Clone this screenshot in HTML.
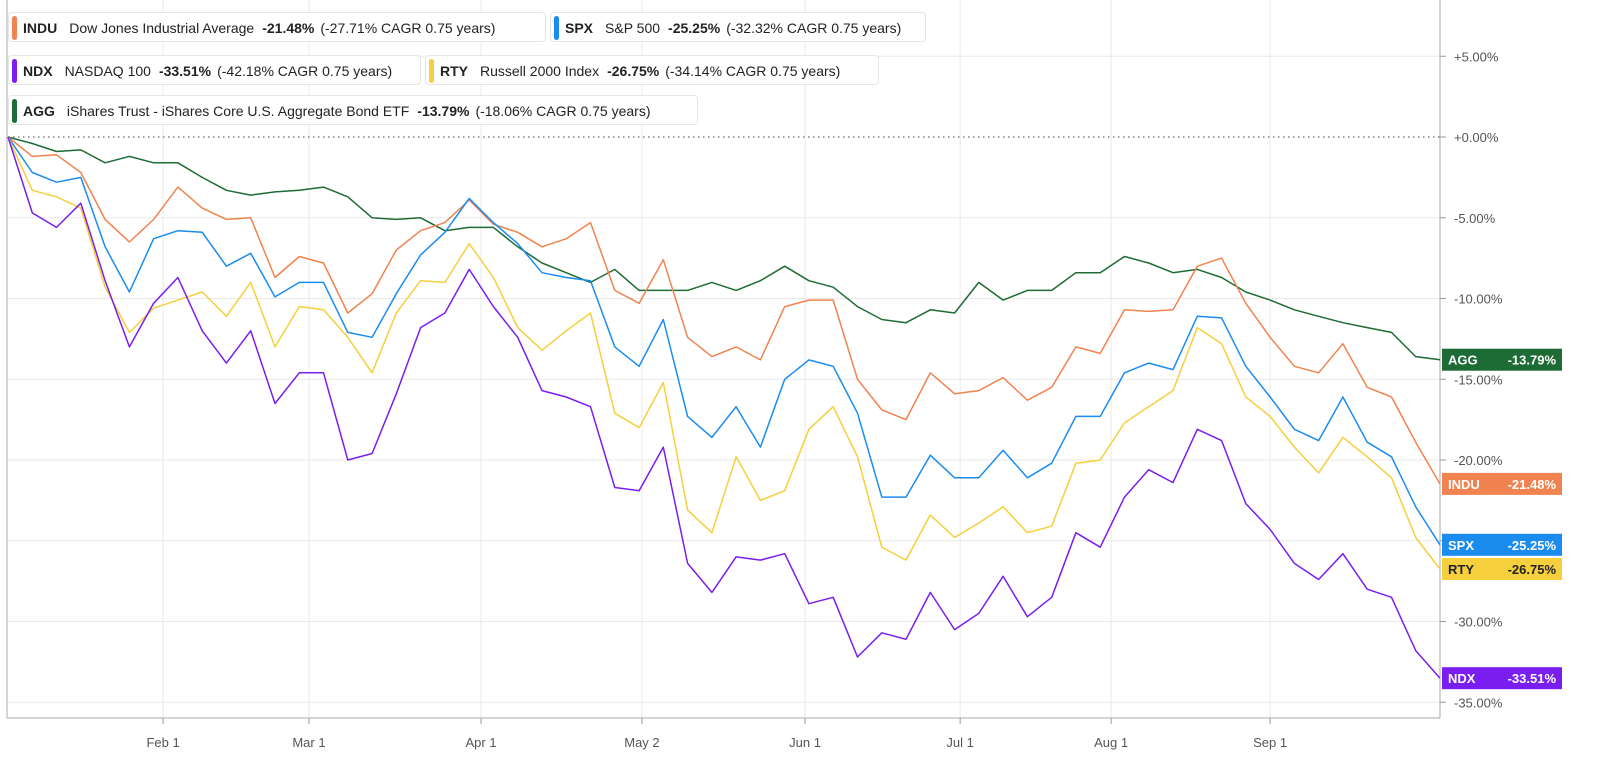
<!DOCTYPE html>
<html><head><meta charset="utf-8">
<style>
html,body{margin:0;padding:0;background:#fff;width:1600px;height:764px;overflow:hidden;font-family:"Liberation Sans",sans-serif;}
#wrap{position:relative;width:1600px;height:764px;overflow:hidden;}
svg{position:absolute;left:0;top:0;overflow:hidden;}
.leg{position:absolute;height:30px;border:1px solid #e6e6e6;border-radius:4px;background:#fff;font-size:14px;color:#222;line-height:30px;white-space:nowrap;padding-left:14px;padding-right:8px;box-sizing:border-box;overflow:hidden;}
.leg .bar{position:absolute;left:3px;top:3px;width:5px;height:24px;border-radius:3px;}
.leg b{font-weight:bold;margin-right:12px;}
.leg .p{font-weight:bold;margin-left:8px;margin-right:6px;}
</style></head><body>
<div id="wrap">
<svg id="chart" width="1600" height="764" viewBox="0 0 1600 764"></svg>
<div class="leg" style="left:8px;top:12px;width:538px"><span class="bar" style="background:#f0834f"></span><b>INDU</b>Dow Jones Industrial Average<span class="p">-21.48%</span>(-27.71% CAGR 0.75 years)</div>
<div class="leg" style="left:550px;top:12px;width:376px"><span class="bar" style="background:#1a8cf0"></span><b>SPX</b>S&amp;P 500<span class="p">-25.25%</span>(-32.32% CAGR 0.75 years)</div>
<div class="leg" style="left:8px;top:55px;width:413px"><span class="bar" style="background:#7a1ef0"></span><b>NDX</b>NASDAQ 100<span class="p">-33.51%</span>(-42.18% CAGR 0.75 years)</div>
<div class="leg" style="left:425px;top:55px;width:454px"><span class="bar" style="background:#f5cf3c"></span><b>RTY</b>Russell 2000 Index<span class="p">-26.75%</span>(-34.14% CAGR 0.75 years)</div>
<div class="leg" style="left:8px;top:95px;width:690px"><span class="bar" style="background:#1d6b35"></span><b>AGG</b>iShares Trust - iShares Core U.S. Aggregate Bond ETF<span class="p">-13.79%</span>(-18.06% CAGR 0.75 years)</div>
</div>
<script>
const yTicks=[5,0,-5,-10,-15,-20,-25,-30,-35];
const yTickLabels=["+5.00%","+0.00%","-5.00%","-10.00%","-15.00%","-20.00%","-25.00%","-30.00%","-35.00%"];
const monthLabels=["Feb 1","Mar 1","Apr 1","May 2","Jun 1","Jul 1","Aug 1","Sep 1"];
const monthIdx=[6.39,12.40,19.49,26.12,32.84,39.23,45.45,52.0];
const indu=[0,-1.2,-1.1,-2.2,-5.1,-6.5,-5.1,-3.1,-4.4,-5.1,-5.0,-8.7,-7.4,-7.8,-10.9,-9.7,-7.0,-5.8,-5.3,-3.9,-5.4,-5.9,-6.8,-6.3,-5.3,-9.5,-10.3,-7.6,-12.4,-13.6,-13.0,-13.8,-10.5,-10.1,-10.1,-15.0,-16.9,-17.5,-14.6,-15.9,-15.7,-14.9,-16.3,-15.5,-13.0,-13.4,-10.7,-10.8,-10.7,-8.0,-7.5,-10.3,-12.4,-14.2,-14.6,-12.8,-15.5,-16.1,-18.9,-21.48];
const spx=[0,-2.2,-2.8,-2.5,-6.8,-9.6,-6.3,-5.8,-5.9,-8.0,-7.2,-9.9,-9.0,-9.0,-12.1,-12.4,-9.7,-7.3,-5.9,-3.8,-5.3,-6.6,-8.4,-8.7,-8.9,-13.0,-14.2,-11.3,-17.3,-18.6,-16.7,-19.2,-15.0,-13.8,-14.2,-17.1,-22.3,-22.3,-19.7,-21.1,-21.1,-19.4,-21.1,-20.2,-17.3,-17.3,-14.6,-14.0,-14.4,-11.1,-11.2,-14.2,-16.1,-18.1,-18.8,-16.1,-18.9,-19.8,-22.9,-25.25];
const rty=[0,-3.3,-3.7,-4.4,-9.3,-12.1,-10.6,-10.1,-9.6,-11.1,-9.0,-13.0,-10.5,-10.7,-12.4,-14.6,-10.9,-8.9,-9.0,-6.6,-8.7,-11.8,-13.2,-12.0,-10.9,-17.1,-18.0,-15.2,-23.1,-24.5,-19.8,-22.5,-21.9,-18.1,-16.7,-19.8,-25.4,-26.2,-23.4,-24.8,-23.9,-22.9,-24.5,-24.1,-20.2,-20.0,-17.7,-16.7,-15.7,-11.8,-12.8,-16.1,-17.3,-19.2,-20.8,-18.6,-19.8,-21.1,-24.8,-26.75];
const ndx=[0,-4.7,-5.6,-4.1,-8.9,-13.0,-10.3,-8.7,-12.0,-14.0,-12.0,-16.5,-14.6,-14.6,-20.0,-19.6,-15.9,-11.8,-10.9,-8.2,-10.5,-12.4,-15.7,-16.1,-16.7,-21.7,-21.9,-19.2,-26.4,-28.2,-26.0,-26.2,-25.8,-28.9,-28.5,-32.2,-30.7,-31.1,-28.2,-30.5,-29.5,-27.2,-29.7,-28.5,-24.5,-25.4,-22.3,-20.6,-21.4,-18.1,-18.8,-22.7,-24.3,-26.4,-27.4,-25.8,-28.0,-28.5,-31.8,-33.51];
const agg=[0,-0.4,-0.9,-0.8,-1.6,-1.2,-1.6,-1.6,-2.5,-3.3,-3.6,-3.4,-3.3,-3.1,-3.7,-5.0,-5.1,-5.0,-5.8,-5.6,-5.6,-6.8,-7.8,-8.4,-9.0,-8.2,-9.5,-9.5,-9.5,-9.0,-9.5,-8.9,-8.0,-8.9,-9.3,-10.5,-11.3,-11.5,-10.7,-10.9,-9.0,-10.1,-9.5,-9.5,-8.4,-8.4,-7.4,-7.8,-8.4,-8.2,-8.7,-9.6,-10.1,-10.7,-11.1,-11.5,-11.8,-12.1,-13.6,-13.79];
const seriesNames=["AGG","INDU","SPX","RTY","NDX"];

const NS="http://www.w3.org/2000/svg";
const svg=document.getElementById('chart');
const X0=8,X1=1440,Y0=137,PXPCT=16.15;
const N=indu.length;
function xScale(i){return X0+(X1-X0)*i/(N-1);}
function yScale(v){return Y0-v*PXPCT;}
function mk(tag,attrs){const e=document.createElementNS(NS,tag);for(const k in attrs)e.setAttribute(k,attrs[k]);svg.appendChild(e);return e;}

yTicks.forEach((t,k)=>{
  const y=yScale(t);
  if(t!==0){const g=mk('line',{x1:X0,x2:X1,y1:y,y2:y,stroke:'#e9e9e9','stroke-width':1});
  
  }
  const tk=mk('line',{x1:X1,x2:X1+6,y1:y,y2:y,stroke:'#999','stroke-width':1});
  
  
  const tx=mk('text',{x:X1+14,y:y+5,'font-size':13,fill:'#555','font-family':'Liberation Sans, sans-serif'});
  tx.textContent=yTickLabels[k];
  
  
});
monthIdx.forEach((m,k)=>{
  const x=xScale(m);
  const g=mk('line',{x1:x,x2:x,y1:0,y2:718,stroke:'#e9e9e9','stroke-width':1});
  
  
  const tk=mk('line',{x1:x,x2:x,y1:718,y2:724,stroke:'#999','stroke-width':1});
  
  
  const tx=mk('text',{x:x,y:747,'font-size':13,fill:'#555','text-anchor':'middle','font-family':'Liberation Sans, sans-serif'});
  tx.textContent=monthLabels[k];
  
  
});
const zl=mk('line',{x1:X0,x2:X1,y1:Y0,y2:Y0,stroke:'#666','stroke-width':1.2,'stroke-dasharray':'1.5,3.5'});


const ax=mk('line',{x1:X1,x2:X1,y1:0,y2:718,stroke:'#aaa','stroke-width':1});


const axl=mk('line',{x1:X0-1,x2:X0-1,y1:0,y2:718,stroke:'#aaa','stroke-width':1});


const xa=mk('line',{x1:X0-1,x2:X1,y1:718,y2:718,stroke:'#aaa','stroke-width':1});



const data=[agg,indu,spx,rty,ndx];
const colors=["#1d6b35","#f0834f","#1a8cf0","#f5cf3c","#7a1ef0"];
const labelText=["#fff","#fff","#fff","#222","#fff"];
data.forEach((arr,s)=>{
  const d=arr.map((v,i)=>(i?'L':'M')+xScale(i).toFixed(1)+' '+yScale(v).toFixed(1)).join(' ');
  const p=mk('path',{d:d,fill:'none',stroke:colors[s],'stroke-width':1.5,'stroke-linejoin':'round'});
  
  
});
data.forEach((arr,s)=>{
  const v=arr[arr.length-1];
  const y=yScale(v);
  const r=mk('rect',{x:1442,y:y-11,width:120,height:22,fill:colors[s]});
  
  
  const t1=mk('text',{x:1448,y:y+5,'font-size':13,'font-weight':'bold',fill:labelText[s],'font-family':'Liberation Sans, sans-serif'});
  t1.textContent=seriesNames[s];
  
  
  const t2=mk('text',{x:1556,y:y+5,'font-size':13,'font-weight':'bold',fill:labelText[s],'text-anchor':'end','font-family':'Liberation Sans, sans-serif'});
  t2.textContent=v.toFixed(2)+'%';
  
  
});
</script>
</body></html>
